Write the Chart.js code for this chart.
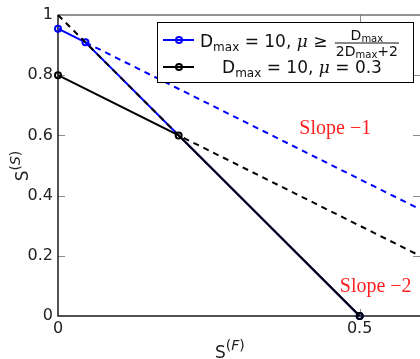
<!DOCTYPE html>
<html>
<head>
<meta charset="utf-8">
<script src="https://cdn.jsdelivr.net/npm/chart.js@4"></script>
<style>
  html, body { margin: 0; padding: 0; background: #ffffff; overflow: hidden; }
  #wrap { width: 420px; height: 359px; }
  canvas { display: block; }
</style>
</head>
<body>
<div id="wrap"><canvas id="c" width="420" height="359"></canvas></div>
<script>
// Axis ranges and tick values
const xRange = [0, 0.6];
const yRange = [0, 1];
const xTickValues = [0, 0.5];
const yTickValues = [0, 0.2, 0.4, 0.6, 0.8, 1];

// D_max = 10, mu >= D_max/(2 D_max + 2)
const blueX = [0, 0.0455, 0.5];
const blueY = [0.9545, 0.9091, 0];
// D_max = 10, mu = 0.3
const blackX = [0, 0.2, 0.5];
const blackY = [0.8, 0.6, 0];
// slope -1 continuation of the blue curve
const blueGuideX = [0.0455, 0.6];
const blueGuideY = [0.9091, 0.3546];
// slope -2 then slope -1 reference for the black curve
const blackGuideX = [0, 0.2, 0.6];
const blackGuideY = [1, 0.6, 0.2];

// slope annotations: [text, x, y] in data units (left edge, baseline)
const slopeLabels = [
  ['Slope \u22121', 0.40, 0.605],
  ['Slope \u22122', 0.467, 0.08]
];

const BLUE = '#0000ff';
const BLACK = '#000000';
const SANS = '"DejaVu Sans", sans-serif';

const pts = (xs, ys) => xs.map((x, i) => ({ x: x, y: ys[i] }));

// Axis frame with inward tick marks
const framePlugin = {
  id: 'frame',
  beforeDatasetsDraw(chart) {
    const ctx = chart.ctx;
    const { left, right, top, bottom } = chart.chartArea;
    const xs = chart.scales.x, ys = chart.scales.y;
    ctx.save();
    ctx.strokeStyle = '#8a8a8a';
    ctx.lineWidth = 1;
    ctx.beginPath();
    yTickValues.forEach(v => {
      if (v === yRange[0] || v === yRange[1]) return;
      const py = Math.round(ys.getPixelForValue(v)) + 0.5;
      ctx.moveTo(left, py); ctx.lineTo(left + 7, py);
      ctx.moveTo(right, py); ctx.lineTo(right - 7, py);
    });
    xTickValues.forEach(v => {
      if (v === xRange[0]) return;
      const px = Math.round(xs.getPixelForValue(v)) + 0.5;
      ctx.moveTo(px, top); ctx.lineTo(px, top + 7);
      ctx.moveTo(px, bottom); ctx.lineTo(px, bottom - 7);
    });
    ctx.stroke();
    // top border
    ctx.strokeStyle = '#6e6e6e';
    ctx.lineWidth = 1.5;
    ctx.beginPath();
    ctx.moveTo(left, top); ctx.lineTo(right, top);
    ctx.stroke();
    // left and bottom axis lines
    ctx.strokeStyle = '#1a1a1a';
    ctx.lineWidth = 1.5;
    ctx.beginPath();
    ctx.moveTo(left, top); ctx.lineTo(left, bottom); ctx.lineTo(right, bottom);
    ctx.stroke();
    ctx.restore();
  }
};

// draw a row of text pieces with individual fonts and vertical offsets
function drawRuns(ctx, x, y, parts) {
  parts.forEach(p => {
    ctx.font = p.f;
    ctx.fillText(p.t, x, y + (p.dy || 0));
    x += ctx.measureText(p.t).width;
  });
  return x;
}
function runsWidth(ctx, parts) {
  let w = 0;
  parts.forEach(p => { ctx.font = p.f; w += ctx.measureText(p.t).width; });
  return w;
}

const annotatePlugin = {
  id: 'annotate',
  afterDraw(chart) {
    const ctx = chart.ctx;
    const xs = chart.scales.x, ys = chart.scales.y;
    ctx.save();
    ctx.textBaseline = 'alphabetic';

    // slope labels
    ctx.fillStyle = '#ff1f1f';
    ctx.font = '20px "Liberation Serif", serif';
    ctx.textAlign = 'left';
    slopeLabels.forEach(([t, x, y]) => {
      ctx.fillText(t, xs.getPixelForValue(x), ys.getPixelForValue(y));
    });

    // axis titles
    ctx.fillStyle = '#222222';
    const xt = [
      { t: 'S', f: '17px ' + SANS },
      { t: '(', f: '14px ' + SANS, dy: -8 },
      { t: 'F', f: 'italic 14px ' + SANS, dy: -8 },
      { t: ')', f: '14px ' + SANS, dy: -8 }
    ];
    drawRuns(ctx, 215, 358, xt);

    const yt = [
      { t: 'S', f: '17px ' + SANS },
      { t: '(', f: '14px ' + SANS, dy: -8 },
      { t: 'S', f: 'italic 14px ' + SANS, dy: -8 },
      { t: ')', f: '14px ' + SANS, dy: -8 }
    ];
    const yw = runsWidth(ctx, yt);
    ctx.save();
    ctx.translate(28, 166);
    ctx.rotate(-Math.PI / 2);
    drawRuns(ctx, -yw / 2, 0, yt);
    ctx.restore();

    // legend
    const lx = 157, ly = 22, lw = 256, lh = 60;
    ctx.fillStyle = '#ffffff';
    ctx.fillRect(lx, ly, lw, lh);
    ctx.strokeStyle = '#000000';
    ctx.lineWidth = 1;
    ctx.strokeRect(lx + 0.5, ly + 0.5, lw, lh);

    const rows = [{ c: BLUE, y: 40 }, { c: BLACK, y: 67 }];
    rows.forEach(r => {
      ctx.strokeStyle = r.c;
      ctx.lineWidth = 2;
      ctx.beginPath();
      ctx.moveTo(163, r.y); ctx.lineTo(194, r.y);
      ctx.stroke();
      ctx.beginPath();
      ctx.arc(179, r.y, 3, 0, Math.PI * 2);
      ctx.stroke();
    });

    ctx.fillStyle = '#111111';
    const row1 = [
      { t: 'D', f: '17px ' + SANS },
      { t: 'max', f: '12px ' + SANS, dy: 4 },
      { t: ' = 10, ', f: '17px ' + SANS },
      { t: '\u03bc', f: 'italic 17px "DejaVu Serif", serif' },
      { t: ' \u2265 ', f: '17px ' + SANS }
    ];
    let fx = drawRuns(ctx, 200, 47, row1) + 2;
    // fraction D_max / (2 D_max + 2)
    const num = [
      { t: 'D', f: '14px ' + SANS },
      { t: 'max', f: '10px ' + SANS, dy: 2 }
    ];
    const den = [
      { t: '2D', f: '14px ' + SANS },
      { t: 'max', f: '10px ' + SANS, dy: 2 },
      { t: '+2', f: '14px ' + SANS }
    ];
    const nw = runsWidth(ctx, num), dw = runsWidth(ctx, den);
    const fw = Math.max(nw, dw) + 2;
    const fc = fx + fw / 2;
    drawRuns(ctx, fc - nw / 2, 40, num);
    ctx.fillRect(fx, 42.5, fw, 1);
    drawRuns(ctx, fc - dw / 2, 56, den);

    const row2 = [
      { t: 'D', f: '17px ' + SANS },
      { t: 'max', f: '12px ' + SANS, dy: 4 },
      { t: ' = 10, ', f: '17px ' + SANS },
      { t: '\u03bc', f: 'italic 17px "DejaVu Serif", serif' },
      { t: ' = 0.3', f: '17px ' + SANS }
    ];
    const r2w = runsWidth(ctx, row2);
    drawRuns(ctx, 302 - r2w / 2, 73, row2);

    ctx.restore();
  }
};

const lineSet = (label, data, color, dashed, withPoints) => ({
  label: label,
  data: data,
  borderColor: color,
  backgroundColor: color,
  borderWidth: 2,
  borderDash: dashed ? [6, 5] : [],
  pointRadius: withPoints ? 3 : 0,
  pointBorderWidth: 2,
  pointBorderColor: color,
  pointBackgroundColor: 'rgba(0,0,0,0)',
  pointHoverRadius: withPoints ? 3 : 0,
  tension: 0,
  fill: false,
  clip: false
});

new Chart(document.getElementById('c'), {
  type: 'line',
  data: {
    datasets: [
      lineSet('black guide', pts(blackGuideX, blackGuideY), BLACK, true, false),
      lineSet('D_max = 10, mu = 0.3', pts(blackX, blackY), BLACK, false, true),
      lineSet('blue guide', pts(blueGuideX, blueGuideY), BLUE, true, false),
      lineSet('D_max = 10, mu >= D_max/(2D_max+2)', pts(blueX, blueY), BLUE, false, true)
    ]
  },
  options: {
    responsive: false,
    animation: false,
    devicePixelRatio: 1,
    layout: { autoPadding: false, padding: { top: 15, right: 0, left: 0, bottom: 0 } },
    plugins: { legend: { display: false }, tooltip: { enabled: false } },
    scales: {
      x: {
        type: 'linear',
        min: xRange[0], max: xRange[1],
        afterBuildTicks: s => { s.ticks = xTickValues.map(v => ({ value: v })); },
        afterFit: s => { s.height = 43; s.paddingLeft = 0; s.paddingRight = 0; },
        grid: { display: false, drawTicks: false },
        border: { display: false },
        ticks: {
          padding: 3,
          color: '#222222',
          font: { family: 'DejaVu Sans', size: 16 },
          maxRotation: 0,
          callback: v => String(v)
        }
      },
      y: {
        type: 'linear',
        min: yRange[0], max: yRange[1],
        afterBuildTicks: s => { s.ticks = yTickValues.map(v => ({ value: v })); },
        afterFit: s => { s.width = 58; s.paddingTop = 0; s.paddingBottom = 0; },
        grid: { display: false, drawTicks: false },
        border: { display: false },
        ticks: {
          padding: 5,
          color: '#222222',
          font: { family: 'DejaVu Sans', size: 16 },
          callback: v => String(v)
        }
      }
    }
  },
  plugins: [framePlugin, annotatePlugin]
});
</script>
</body>
</html>
